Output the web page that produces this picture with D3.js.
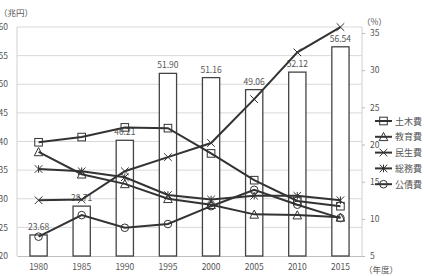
<!DOCTYPE html>
<html>
<head>
<meta charset="utf-8">
<script src="https://cdn.jsdelivr.net/npm/d3@7"></script>
<style>
  body { margin: 0; background: #fff; }
  text { font-family: "Noto Sans CJK JP", "Liberation Sans", sans-serif; fill: #555; }
  .tick text { font-size: 8.5px; }
</style>
</head>
<body>
<div id="chart"></div>
<script>
var width = 424, height = 276;

// data
var years = ['1980', '1985', '1990', '1995', '2000', '2005', '2010', '2015'];
var totals = [23.68, 28.71, 40.21, 51.90, 51.16, 49.06, 52.12, 56.54];   // 兆円, bars
var doboku = [20.3, 21.0, 22.3, 22.2, 18.8, 15.2, 12.4, 11.7];
var kyoiku = [19.0, 16.0, 14.7, 12.7, 11.9, 10.6, 10.5, 10.2];
var minsei = [12.5, 12.6, 16.4, 18.3, 20.2, 26.1, 32.4, 35.8];
var somu = [16.7, 16.4, 15.6, 13.2, 12.6, 13.1, 13.1, 12.5];
var kosai = [7.6, 10.5, 8.8, 9.3, 11.7, 13.9, 11.9, 10.1];
var leftTicks = [20, 25, 30, 35, 40, 45, 50, 55, 60];
var rightTicks = [5, 10, 15, 20, 25, 30, 35];

var series = [
    { name: '土木費', values: doboku, marker: 'square' },
    { name: '教育費', values: kyoiku, marker: 'triangle' },
    { name: '民生費', values: minsei, marker: 'cross' },
    { name: '総務費', values: somu, marker: 'star' },
    { name: '公債費', values: kosai, marker: 'circle' }
];

var plotLeft = 17, plotRight = 362, plotTop = 27, plotBottom = 256;
var lineColor = '#333';

var svg = d3.select('#chart').append('svg')
    .attr('width', width)
    .attr('height', height);

var x = d3.scaleBand()
    .domain(years)
    .range([plotLeft, plotRight])
    .paddingInner(0.6)
    .paddingOuter(0.3);

var yL = d3.scaleLinear().domain([20, 60]).range([plotBottom, plotTop]);
var yR = d3.scaleLinear().domain([5, 35]).range([plotBottom, 33]);

// gridlines
svg.append('g').selectAll('line')
    .data(leftTicks.slice(1))
    .enter().append('line')
    .attr('x1', plotLeft).attr('x2', plotRight)
    .attr('y1', function (d) { return yL(d); })
    .attr('y2', function (d) { return yL(d); })
    .attr('stroke', '#d9d9d9').attr('stroke-width', 1);

// frame sides
svg.append('line').attr('x1', plotLeft).attr('x2', plotLeft)
    .attr('y1', plotTop).attr('y2', plotBottom).attr('stroke', '#d0d0d0');
svg.append('line').attr('x1', plotRight).attr('x2', plotRight)
    .attr('y1', plotTop).attr('y2', plotBottom).attr('stroke', '#d0d0d0');

// left axis
var gL = svg.append('g')
    .attr('transform', 'translate(' + plotLeft + ',0)')
    .call(d3.axisLeft(yL).tickValues(leftTicks).tickSize(0).tickPadding(9));
gL.select('.domain').remove();

// right axis
var gR = svg.append('g')
    .attr('transform', 'translate(' + plotRight + ',0)')
    .call(d3.axisRight(yR).tickValues(rightTicks).tickSize(3).tickPadding(5));
gR.select('.domain').remove();
gR.selectAll('.tick line').attr('stroke', '#bbb');

// bottom axis
var gB = svg.append('g')
    .attr('transform', 'translate(0,' + plotBottom + ')')
    .call(d3.axisBottom(x).tickSize(0).tickPadding(8));
gB.select('.domain').attr('stroke', '#bfbfbf');

// bars
svg.append('g').selectAll('rect')
    .data(totals)
    .enter().append('rect')
    .attr('x', function (d, i) { return x(years[i]); })
    .attr('width', x.bandwidth())
    .attr('y', function (d) { return yL(d); })
    .attr('height', function (d) { return plotBottom - yL(d); })
    .attr('fill', '#fff')
    .attr('stroke', '#444')
    .attr('stroke-width', 1.3);

svg.append('g').selectAll('text')
    .data(totals)
    .enter().append('text')
    .text(function (d) { return d.toFixed(2); })
    .attr('x', function (d, i) { return x(years[i]) + x.bandwidth() / 2; })
    .attr('y', function (d) { return yL(d) - 5; })
    .attr('text-anchor', 'middle')
    .style('font-size', '8.5px');

// marker drawing
var drawMarker = function (g, type, cx, cy) {
    var s = 3.8;
    if (type == 'square') {
        g.append('rect').attr('x', cx - s).attr('y', cy - s)
            .attr('width', 2 * s).attr('height', 2 * s)
            .attr('fill', 'none').attr('stroke', lineColor).attr('stroke-width', 1);
    } else if (type == 'triangle') {
        g.append('path')
            .attr('d', 'M' + cx + ',' + (cy - s - 0.5) + 'L' + (cx + s + 0.5) + ',' + (cy + s) +
                'L' + (cx - s - 0.5) + ',' + (cy + s) + 'Z')
            .attr('fill', 'none').attr('stroke', lineColor).attr('stroke-width', 1);
    } else if (type == 'circle') {
        g.append('circle').attr('cx', cx).attr('cy', cy).attr('r', s)
            .attr('fill', 'none').attr('stroke', lineColor).attr('stroke-width', 1);
    } else {
        g.append('path')
            .attr('d', 'M' + (cx - s) + ',' + (cy - s) + 'L' + (cx + s) + ',' + (cy + s) +
                'M' + (cx - s) + ',' + (cy + s) + 'L' + (cx + s) + ',' + (cy - s) +
                (type == 'star' ? 'M' + cx + ',' + (cy - s) + 'L' + cx + ',' + (cy + s) : ''))
            .attr('fill', 'none').attr('stroke', lineColor).attr('stroke-width', 1);
    }
};

var line = d3.line()
    .x(function (d, i) { return x(years[i]) + x.bandwidth() / 2; })
    .y(function (d) { return yR(d); });

series.forEach(function (s) {
    var g = svg.append('g');
    g.append('path')
        .datum(s.values)
        .attr('d', line)
        .attr('fill', 'none')
        .attr('stroke', lineColor)
        .attr('stroke-width', 2);
    s.values.forEach(function (v, i) {
        drawMarker(g, s.marker, x(years[i]) + x.bandwidth() / 2, yR(v));
    });
});

// legend
var legend = svg.append('g');
series.forEach(function (s, i) {
    var ly = 121 + i * 15.8;
    legend.append('line')
        .attr('x1', 375).attr('x2', 392)
        .attr('y1', ly).attr('y2', ly)
        .attr('stroke', lineColor).attr('stroke-width', 2);
    drawMarker(legend, s.marker, 383.5, ly);
    legend.append('text')
        .text(s.name)
        .attr('x', 395).attr('y', ly + 3.5)
        .style('font-size', '9px');
});

// unit labels
svg.append('text').text('（兆円）').attr('x', -1).attr('y', 16).style('font-size', '8.5px');
svg.append('text').text('（%）').attr('x', 362).attr('y', 25).style('font-size', '8.5px');
svg.append('text').text('（年度）').attr('x', 364).attr('y', 273).style('font-size', '8.5px');
</script>
</body>
</html>
